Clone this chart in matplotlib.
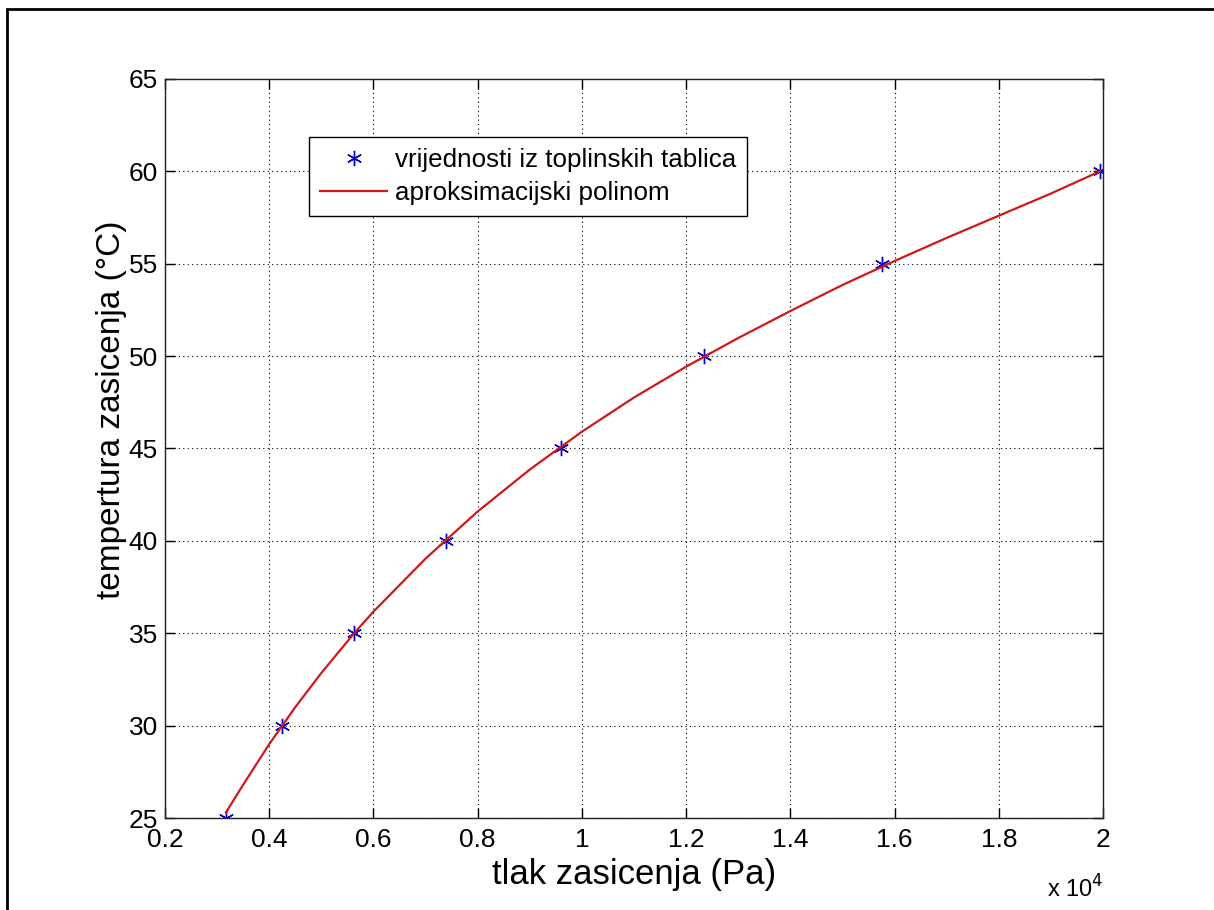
import numpy as np
import matplotlib
matplotlib.use("Agg")
import matplotlib.pyplot as plt
from matplotlib.patches import Rectangle
from matplotlib.ticker import FuncFormatter

# vrijednosti iz toplinskih tablica (tlak u Pa, temperatura u °C)
tlak = [3169, 4246, 5628, 7384, 9593, 12349, 15758, 19940]
temp = [25, 30, 35, 40, 45, 50, 55, 60]

# aproksimacijski polinom - tocke ocitane sa slike
tlak_fit = [3170, 3500, 4000, 4500, 5000, 5630, 6000, 7000, 8000, 9000, 10000,
            11000, 12000, 13000, 14000, 15000, 16000, 17000, 18000, 19000, 19940]
temp_fit = [25.3, 26.8, 29.0, 31.0, 32.85, 35.0, 36.17, 39.04, 41.59, 43.86, 45.91,
            47.76, 49.43, 50.98, 52.44, 53.85, 55.15, 56.4, 57.6, 58.8, 60.0]

x_ticks = [2000, 4000, 6000, 8000, 10000, 12000, 14000, 16000, 18000, 20000]
y_ticks = [25, 30, 35, 40, 45, 50, 55, 60, 65]

plt.rcParams['font.family'] = ['Liberation Sans', 'DejaVu Sans']

fig = plt.figure(figsize=(12.14, 9.10), dpi=100)
ax = fig.add_axes([165/1214, 1 - 818/910, (1103 - 165)/1214, (818 - 79)/910])

ax.plot(tlak, temp, linestyle='none', marker=(6, 2, 0), markersize=11,
        markeredgewidth=1.0, color='#0000c8', label='vrijednosti iz toplinskih tablica')
ax.plot(tlak_fit, temp_fit, color='#d01818', linewidth=1.6, label='aproksimacijski polinom')

ax.set_xlim(2000, 20000)
ax.set_ylim(25, 65)
ax.set_xticks(x_ticks)
ax.set_yticks(y_ticks)
ax.xaxis.set_major_formatter(FuncFormatter(lambda v, p: f"{v/1e4:g}"))
ax.tick_params(direction='in', length=7, width=1, labelsize=19, pad=5,
               top=True, right=True)
ax.tick_params(axis='x', pad=7.5)
ax.grid(True, linestyle=(0, (1, 3)), color='black', linewidth=0.8)
for s in ax.spines.values():
    s.set_linewidth(1.0)
    s.set_color('#222222')

ax.set_xlabel('tlak zasicenja (Pa)', fontsize=25, labelpad=4)
ax.set_ylabel('tempertura zasicenja (°C)', fontsize=24)
ax.yaxis.set_label_coords(-0.0405, 0.553)
ax.text(1.0, -0.078, r'x 10$^4$', transform=ax.transAxes, fontsize=17,
        ha='right', va='top')

leg = ax.legend(loc='upper left', bbox_to_anchor=(0.1535, 0.9215), borderaxespad=0,
                fontsize=18.7, fancybox=False, framealpha=1, edgecolor='black',
                handlelength=2.6, borderpad=0.42, labelspacing=0.34, handletextpad=0.3)
leg.get_frame().set_linewidth(1.0)

# okvir oko slike
fig.patches.append(Rectangle((7/1214, -0.1), 2, 1 - 9/910 + 0.1, transform=fig.transFigure,
                             fill=False, edgecolor='black', linewidth=2))

fig.savefig('out.png', dpi=100)
